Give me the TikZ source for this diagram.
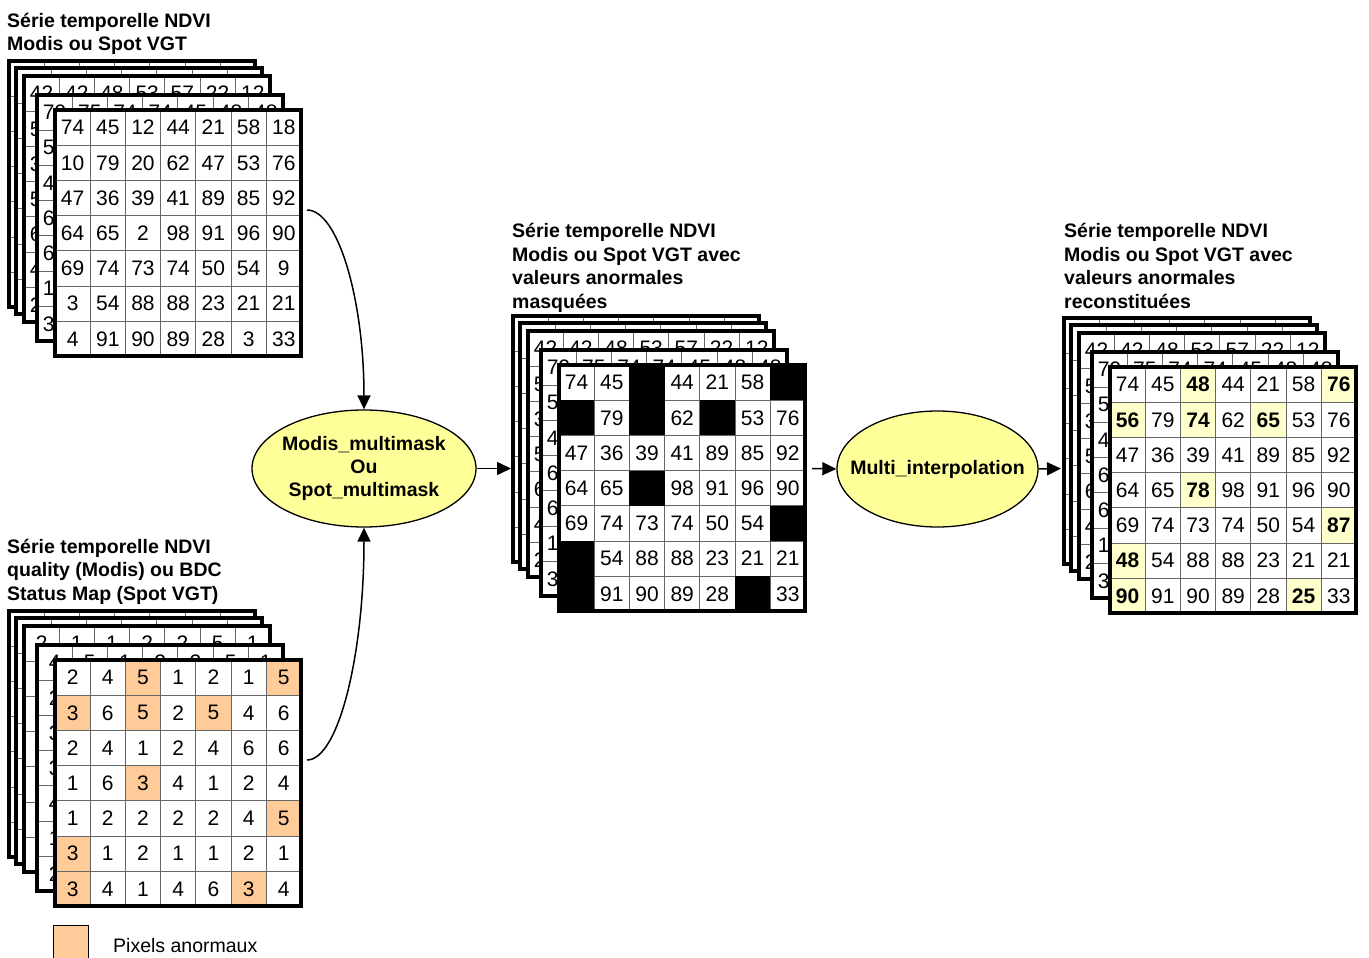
\documentclass[tikz,border=0pt]{standalone}
\usepackage{fontspec}
\setmainfont{Liberation Sans}
\usetikzlibrary{calc}
\usetikzlibrary{shapes.geometric, arrows.meta, positioning}

\definecolor{procyellow}{HTML}{FFFF99}
\definecolor{badorange}{HTML}{FFCC99}
\definecolor{fixyellow}{HTML}{FFFFCC}

% cell size and grid size
\def\cs{35.2}
\def\gs{246.4}

% anomalous pixels (column/row)
\def\badcells{3/1,7/1,1/2,3/2,5/2,3/4,7/5,1/6,1/7,6/7}

% NDVI values (back layers: only the cells that peek out)
\def\ndvifront{{74,45,12,44,21,58,18},{10,79,20,62,47,53,76},{47,36,39,41,89,85,92},{64,65,2,98,91,96,90},{69,74,73,74,50,54,9},{3,54,88,88,23,21,21},{4,91,90,89,28,3,33}}
\def\ndvifixed{{74,45,\textbf{48},44,21,58,\textbf{76}},{\textbf{56},79,\textbf{74},62,\textbf{65},53,76},{47,36,39,41,89,85,92},{64,65,\textbf{78},98,91,96,90},{69,74,73,74,50,54,\textbf{87}},{\textbf{48},54,88,88,23,21,21},{\textbf{90},91,90,89,28,\textbf{25},33}}
\def\ndvithree{{42,42,48,53,57,22,12},{53},{36},{55},{63},{47},{21}}
\def\ndvifour{{79,75,74,74,45,48,48},{54},{48},{66},{62},{16},{35}}

% quality values
\def\qualfront{{2,4,5,1,2,1,5},{3,6,5,2,5,4,6},{2,4,1,2,4,6,6},{1,6,3,4,1,2,4},{1,2,2,2,2,4,5},{3,1,2,1,1,2,1},{3,4,1,4,6,3,4}}
\def\qualthree{{2,1,1,2,2,5,1}}
\def\qualfour{{4,5,1,2,2,5,1},{2},{3},{3},{4},{1},{2}}

\tikzset{
  cellline/.style={black!60, line width=1pt},
  gridframe/.style={draw=black, line width=4pt},
  cellnum/.style={inner sep=0pt, font=\fontsize{21}{25}\selectfont},
  title/.style={anchor=base west, align=left, inner sep=0pt, font=\bfseries\fontsize{19.5}{23.4}\selectfont},
  procbox/.style={ellipse, draw=black, line width=1.3pt, fill=procyellow},
  proctext/.style={align=center, inner sep=0pt, font=\bfseries\fontsize{19.5}{22.7}\selectfont},
  flow/.style={-{Triangle[length=14pt,width=13pt]}, line width=1.5pt}
}

% one layer of a stack, optional fills under the lines
\newcommand{\layer}[2][]{%
  \fill[white] (#2) rectangle ++(\gs,\gs);
  #1
  \foreach \k in {1,...,6} {
    \draw[cellline] ($(#2)+(\k*\cs,0)$) -- ++(0,\gs);
    \draw[cellline] ($(#2)+(0,\k*\cs)$) -- ++(\gs,0);
  }
  \draw[gridframe] (#2) rectangle ++(\gs,\gs);
}

\newcommand{\cellvalues}[2]{%
  \foreach \row [count=\r] in #2 {
    \foreach \v [count=\c] in \row
      \node[cellnum] at ($(#1)+({(\c-0.5)*\cs},{(\r-0.5)*\cs})$) {\v};
  }
}

\newcommand{\cellmarks}[2]{%
  \foreach \c/\r in \badcells
    \fill[#2] ($(#1)+({(\c-1)*\cs},{(\r-1)*\cs})$) rectangle ++(\cs,\cs);
}

% the four layers behind the front one
\newcommand{\backlayers}[4]{%
  \layer{#1-46,#2-49}
  \layer{#1-39,#2-42}
  \layer{#1-31,#2-34}
  \cellvalues{#1-31,#2-34}{#3}
  \layer{#1-18,#2-15}
  \cellvalues{#1-18,#2-15}{#4}
}

\begin{document}
\begin{tikzpicture}[x=1pt, y=-1pt]
\useasboundingbox (0,0) rectangle (1369,958);

% Labels (base = last line)
\node[title] (ndvilabel) at (7,51) {Série temporelle NDVI\\Modis ou Spot VGT};
\node[title] (quallabel) at (7,600) {Série temporelle NDVI\\quality (Modis) ou BDC\\Status Map (Spot VGT)};
\node[title] (masklabel) at (512,308) {Série temporelle NDVI\\Modis ou Spot VGT avec\\valeurs anormales\\masquées};
\node[title] (fixlabel) at (1064,308) {Série temporelle NDVI\\Modis ou Spot VGT avec\\valeurs anormales\\reconstituées};

% NDVI stack
\backlayers{55}{110}{\ndvithree}{\ndvifour}
\layer{55,110}
\cellvalues{55,110}{\ndvifront}

% quality stack
\backlayers{55}{660}{\qualthree}{\qualfour}
\layer[\cellmarks{55,660}{badorange}]{55,660}
\cellvalues{55,660}{\qualfront}

% masked stack
\backlayers{559}{365}{\ndvithree}{\ndvifour}
\layer{559,365}
\cellvalues{559,365}{\ndvifront}
\cellmarks{559,365}{black}

% reconstructed stack
\backlayers{1110}{367}{\ndvithree}{\ndvifour}
\layer[\cellmarks{1110,367}{fixyellow}]{1110,367}
\cellvalues{1110,367}{\ndvifixed}

% Processes
\node[procbox, minimum width=224pt, minimum height=117pt] (multimask) at (364,468.5) {};
\node[proctext] (multimasktext) at (multimask) {Modis\_multimask\\Ou\\Spot\_multimask};
\node[procbox, minimum width=201pt, minimum height=116pt] (interp) at (937.5,469) {};
\node[proctext] (interptext) at (interp) {Multi\_interpolation};

% Connectors
\coordinate (ndviout) at (307,210);
\coordinate (qualout) at (307,760);
\coordinate (maskin) at (511,468.5);
\coordinate (maskout) at (812,468.5);
\coordinate (fixin) at (1061,468.5);

\draw[flow] (ndviout) .. controls +(31,0) and +(0,-110) .. (multimask.north);
\draw[flow] (qualout) .. controls +(31,0) and +(0,129) .. (multimask.south);
\draw[flow] (multimask.east) -- (maskin);
\draw[flow] (maskout) -- (interp.west);
\draw[flow] (interp.east) -- (fixin);

% Legend
\node[draw, line width=1pt, fill=badorange, minimum width=35pt, minimum height=50pt, inner sep=0pt, anchor=north west] (legendbox) at (53,925) {};
\node[anchor=base west, inner sep=0pt, font=\fontsize{19.5}{23.4}\selectfont] (legendtext) at (113,952) {Pixels anormaux};

\end{tikzpicture}
\end{document}
